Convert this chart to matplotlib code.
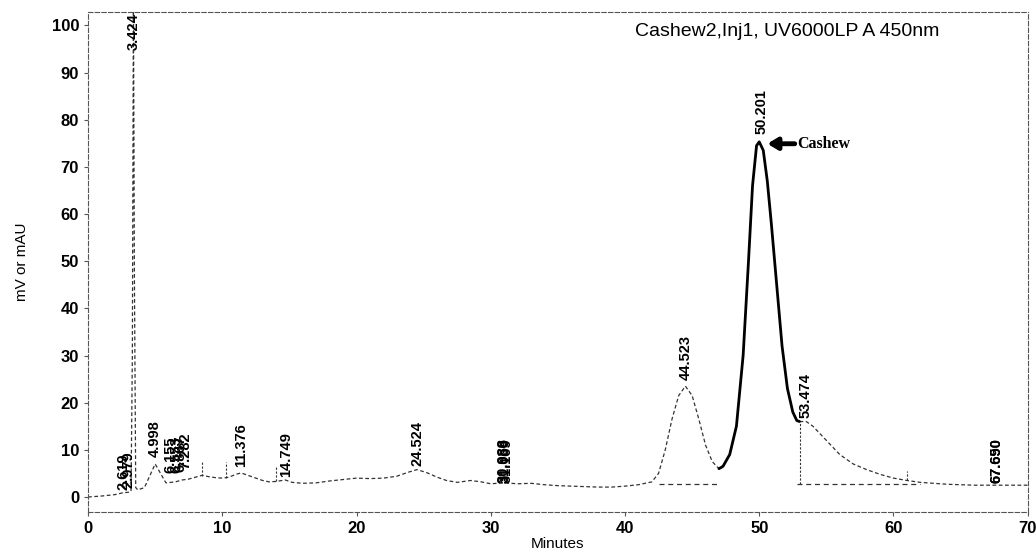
import matplotlib
matplotlib.use("Agg")
import matplotlib.pyplot as plt
import numpy as np

# trace (minutes, mV)
time = [0.0, 1.0, 2.0, 2.6, 3.0, 3.2, 3.3, 3.38, 3.45, 3.55, 3.7, 4.2, 4.6, 5.0, 5.4, 5.8,
        6.5, 7.0, 7.5, 8.0, 8.5, 9.0, 9.5, 10.0, 10.5, 11.0, 11.4, 11.9, 12.5, 13.0, 13.5,
        14.0, 14.7, 15.2, 16.0, 17.0, 18.0, 19.0, 20.0, 21.0, 22.0, 23.0, 23.8, 24.5, 25.2,
        26.0, 26.7, 27.5, 28.5, 29.3, 30.0, 31.0, 32.0, 33.0, 34.0, 35.0, 36.0, 37.0, 38.0,
        39.0, 40.0, 41.0, 42.0, 42.5, 43.0, 43.5, 44.0, 44.5, 45.0, 45.5, 46.0, 46.5, 47.0]
signal = [0.0, 0.2, 0.5, 0.9, 1.0, 1.2, 30.0, 106.0, 48.0, 2.0, 1.5, 2.0, 4.5, 7.0, 5.0, 3.0,
          3.2, 3.6, 3.8, 4.2, 4.6, 4.3, 4.1, 4.0, 4.2, 4.8, 5.1, 4.6, 4.0, 3.5, 3.2,
          3.3, 3.6, 3.1, 2.9, 3.0, 3.4, 3.7, 4.0, 3.9, 4.0, 4.4, 5.2, 5.8, 5.2,
          4.2, 3.5, 3.1, 3.5, 3.2, 2.8, 3.0, 2.8, 2.9, 2.6, 2.4, 2.3, 2.2, 2.1,
          2.1, 2.3, 2.6, 3.2, 5.0, 10.0, 16.5, 21.5, 23.5, 21.5, 16.5, 11.0, 7.5, 6.0]

# cashew peak (drawn solid)
cashew_t = [47.0, 47.3, 47.8, 48.3, 48.8, 49.2, 49.5, 49.8, 50.0, 50.3, 50.6, 50.9, 51.3,
            51.7, 52.1, 52.5, 52.8, 53.0]
cashew_s = [6.0, 6.5, 9.0, 15.0, 30.0, 50.0, 66.0, 74.5, 75.3, 73.5, 67.0, 58.0, 45.0,
            32.0, 23.0, 18.0, 16.2, 16.0]

tail_t = [53.0, 53.5, 54.0, 55.0, 56.0, 57.0, 58.0, 59.0, 60.0, 61.0, 62.0, 63.0, 64.0,
          65.0, 66.0, 67.0, 68.0, 69.0, 70.0]
tail_s = [16.0, 16.0, 15.0, 12.0, 9.0, 7.0, 5.8, 4.8, 4.0, 3.5, 3.1, 2.9, 2.7,
          2.6, 2.5, 2.5, 2.5, 2.5, 2.5]

# peak labels: retention time text and where the label starts (mV)
peak_rt = [2.619, 2.979, 4.998, 6.155, 6.553, 6.867, 7.282, 11.376, 14.749, 24.524,
           30.988, 31.059, 31.169, 44.523, 50.201, 53.474, 67.650, 67.690]
label_y = [1.5, 1.8, 8.5, 5.0, 5.0, 5.3, 6.0, 6.3, 4.2, 6.5,
           3.0, 3.0, 3.0, 24.8, 77.0, 16.7, 3.0, 3.0]
big_rt = 3.424

# integrator marks
base_x0 = [42.5, 52.8]
base_x1 = [47.0, 62.0]
base_y = [2.7, 2.7]
mark_x = [8.5, 10.3, 14.0, 53.0, 61.0]
mark_lo = [4.5, 4.0, 3.3, 2.7, 3.5]
mark_hi = [7.5, 7.5, 6.5, 16.0, 5.5]

fnt = ['Liberation Sans', 'DejaVu Sans']
fnt_narrow = ['Liberation Sans Narrow', 'Liberation Sans', 'DejaVu Sans']

fig = plt.figure(figsize=(10.36, 5.53), dpi=100)
ax = fig.add_axes([0.085, 0.074, 0.907, 0.904])

dash = (0, (3, 2))
ax.plot(time, signal, color='#333333', lw=0.9, ls=dash)
ax.plot(tail_t, tail_s, color='#333333', lw=0.9, ls=dash)
ax.plot(cashew_t, cashew_s, color='black', lw=2.0, solid_capstyle='round')

for x0, x1, y in zip(base_x0, base_x1, base_y):
    ax.plot([x0, x1], [y, y], color='#333333', lw=0.9, ls=(0, (4, 3)))
for x, lo, hi in zip(mark_x, mark_lo, mark_hi):
    ax.plot([x, x], [lo, hi], color='#333333', lw=0.8, ls=(0, (2, 1.5)))

for rt, y in zip(peak_rt, label_y):
    ax.text(rt, y, '%.3f' % rt, rotation=90, ha='center', va='bottom',
            fontsize=10.5, fontweight='bold', family=fnt_narrow)
ax.text(big_rt, 102.6, '%.3f' % big_rt, rotation=90, ha='center', va='top',
        fontsize=10.5, fontweight='bold', family=fnt_narrow)

ax.annotate('Cashew', xy=(50.6, 74.9), xytext=(52.85, 74.9),
            va='center', ha='left', fontsize=11.5, fontweight='bold',
            family=['Liberation Serif', 'DejaVu Serif'],
            arrowprops=dict(arrowstyle='-|>,head_length=0.5,head_width=0.3',
                            color='black', lw=3.5, shrinkA=0, shrinkB=0))

ax.text(0.906, 0.979, 'Cashew2,Inj1, UV6000LP A 450nm', transform=ax.transAxes,
        ha='right', va='top', fontsize=14, family=fnt)

ax.set_xlim(0, 70)
ax.set_ylim(-3.2, 102.8)
ax.set_xticks(np.arange(0, 71, 10))
ax.set_yticks(np.arange(0, 101, 10))
for lab in ax.get_xticklabels() + ax.get_yticklabels():
    lab.set_family(fnt)
    lab.set_fontsize(12)
    lab.set_fontweight('bold')
ax.tick_params(length=3, width=0.8, color='#555555')
ax.set_xlabel('Minutes', fontsize=11, family=fnt, labelpad=1)
ax.set_ylabel('mV or mAU', fontsize=11, family=fnt, labelpad=16)

for side in ['top', 'right', 'bottom', 'left']:
    ax.spines[side].set_linestyle((0, (4, 2)))
    ax.spines[side].set_color('#555555')
    ax.spines[side].set_linewidth(0.8)

fig.savefig('out.png', dpi=100)
